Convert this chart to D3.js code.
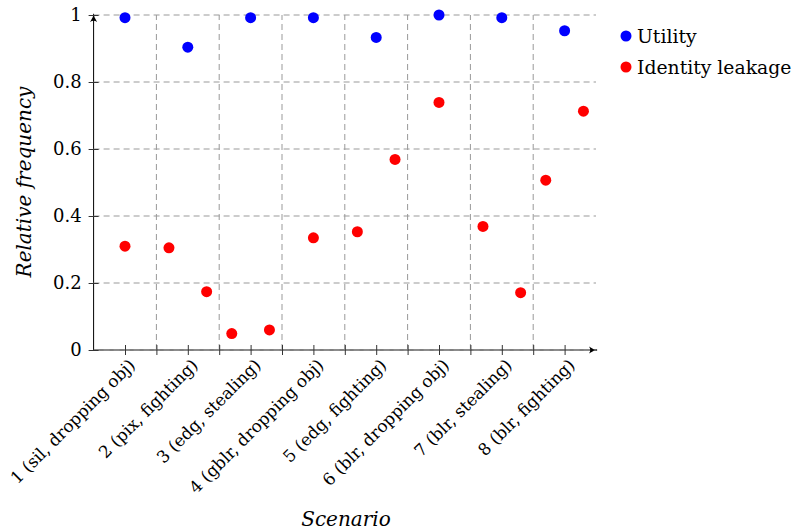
<!DOCTYPE html>
<html>
<head>
<meta charset="utf-8">
<script src="https://cdn.jsdelivr.net/npm/d3@7"></script>
<style>
  body { margin: 0; background: #fff; }
  svg { display: block; }
  text { font-family: "DejaVu Serif", "Liberation Serif", serif; fill: #000; }
</style>
</head>
<body>
<svg id="chart" width="795" height="531"></svg>
<script>
// ---- data ----
const scenarioLabels = [
  "1 (sil, dropping obj)", "2 (pix, fighting)", "3 (edg, stealing)",
  "4 (gblr, dropping obj)", "5 (edg, fighting)", "6 (blr, dropping obj)",
  "7 (blr, stealing)", "8 (blr, fighting)"
];
const utilityX = [1, 2, 3, 4, 5, 6, 7, 8];
const utilityY = [0.992, 0.904, 0.992, 0.992, 0.933, 1.0, 0.992, 0.953];
const leakageX = [1, 1.7, 2.3, 2.7, 3.3, 4, 4.7, 5.3, 6, 6.7, 7.3, 7.7, 8.3];
const leakageY = [0.31, 0.305, 0.174, 0.049, 0.06, 0.335, 0.353, 0.569, 0.739, 0.369, 0.171, 0.507, 0.713];
const yTicks = [0, 0.2, 0.4, 0.6, 0.8, 1];
const yTickLabels = ["0", "0.2", "0.4", "0.6", "0.8", "1"];
const xMinorTicks = [1, 1.5, 2, 2.5, 3, 3.5, 4, 4.5, 5, 5.5, 6, 6.5, 7, 7.5, 8];
const xGrid = [1.5, 2.5, 3.5, 4.5, 5.5, 6.5, 7.5];
const seriesNames = ["Utility", "Identity leakage"];
const seriesColors = ["#0000ff", "#ff0000"];

// ---- layout ----
const svg = d3.select("#chart");
const x = d3.scaleLinear().domain([0.5, 8.5]).range([93.6, 596]);
const y = d3.scaleLinear().domain([0, 1]).range([350, 15]);

svg.append("defs").append("marker")
  .attr("id", "arrow").attr("viewBox", "0 0 10 10")
  .attr("refX", 9).attr("refY", 5)
  .attr("markerWidth", 9).attr("markerHeight", 9)
  .attr("markerUnits", "userSpaceOnUse")
  .attr("orient", "auto")
  .append("path").attr("d", "M0,1 Q5,5 10,5 Q5,5 0,9 Q3,5 0,1 Z").attr("fill", "#000");

const g = svg.append("g");

// axis lines
g.append("line").attr("x1", x(0.5)).attr("x2", x(8.5) + 1).attr("y1", y(0)).attr("y2", y(0))
  .attr("stroke", "#000").attr("stroke-width", 1).attr("marker-end", "url(#arrow)");
g.append("line").attr("x1", x(0.5)).attr("x2", x(0.5)).attr("y1", y(0)).attr("y2", y(1) - 1)
  .attr("stroke", "#000").attr("stroke-width", 1).attr("marker-end", "url(#arrow)");

// grid
const grid = g.append("g").attr("stroke", "#999").attr("stroke-width", 1).attr("stroke-dasharray", "6,4");
grid.selectAll("line.h").data(yTicks).join("line").attr("class", "h")
  .attr("x1", x(0.5)).attr("x2", x(8.5)).attr("y1", d => y(d)).attr("y2", d => y(d));
grid.selectAll("line.v").data(xGrid).join("line").attr("class", "v")
  .attr("y1", y(0)).attr("y2", y(1)).attr("x1", d => x(d)).attr("x2", d => x(d));

// x axis ticks
const xAxis = d3.axisBottom(x).tickValues(xMinorTicks).tickSizeInner(5).tickSizeOuter(0).tickFormat("");
const xa = g.append("g").attr("transform", `translate(0,${y(0)})`).call(xAxis);
xa.select(".domain").remove();
xa.selectAll(".tick line").attr("y1", -5).attr("y2", 5).attr("stroke", "#333");

// x labels
g.append("g").selectAll("text").data(utilityX).join("text")
  .attr("transform", d => `translate(${x(d) + 7},${y(0) + 12}) rotate(-45)`)
  .attr("text-anchor", "end").attr("dy", "0.35em")
  .attr("font-size", 16.8)
  .text((d, i) => scenarioLabels[i]);

// y axis ticks
const yAxis = d3.axisLeft(y).tickValues(yTicks).tickSizeInner(5).tickSizeOuter(0)
  .tickFormat((d, i) => yTickLabels[i]);
const ya = g.append("g").attr("transform", `translate(${x(0.5)},0)`).call(yAxis);
ya.select(".domain").remove();
ya.selectAll(".tick text").attr("x", -12).attr("font-size", 18)
  .attr("font-family", "DejaVu Serif, serif").attr("fill", "#000");
ya.selectAll(".tick line").attr("x1", -5).attr("x2", 5).attr("stroke", "#333");

// points
g.append("g").selectAll("circle").data(utilityX).join("circle")
  .attr("cx", d => x(d)).attr("cy", (d, i) => y(utilityY[i])).attr("r", 5.5).attr("fill", seriesColors[0]);
g.append("g").selectAll("circle").data(leakageX).join("circle")
  .attr("cx", d => x(d)).attr("cy", (d, i) => y(leakageY[i])).attr("r", 5.5).attr("fill", seriesColors[1]);

// axis titles
g.append("text").attr("transform", "translate(31,182) rotate(-90)")
  .attr("text-anchor", "middle").attr("font-style", "italic").attr("font-size", 20)
  .text("Relative frequency");
g.append("text").attr("x", 346).attr("y", 526)
  .attr("text-anchor", "middle").attr("font-style", "italic").attr("font-size", 20)
  .text("Scenario");

// legend
const leg = g.append("g");
seriesNames.forEach((name, i) => {
  leg.append("circle").attr("cx", 626).attr("cy", 36 + i * 31).attr("r", 5.5).attr("fill", seriesColors[i]);
  leg.append("text").attr("x", 637).attr("y", 42.5 + i * 31).attr("font-size", 18.8).text(name);
});
</script>
</body>
</html>
